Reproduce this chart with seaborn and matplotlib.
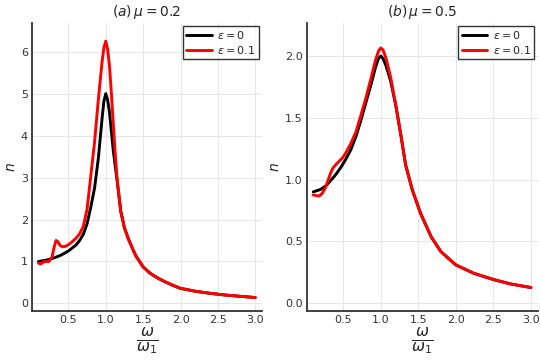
import matplotlib
matplotlib.use("Agg")
import matplotlib.pyplot as plt
import seaborn as sns
import pandas as pd

# ---- data ----
# panel (a): mu = 0.2
w_a_black = [0.10, 0.20, 0.30, 0.40, 0.50, 0.60, 0.65, 0.70, 0.75, 0.80, 0.85, 0.90, 0.95, 0.975, 1.00,
             1.025, 1.05, 1.075, 1.10, 1.125, 1.15, 1.20, 1.25, 1.30, 1.35, 1.40, 1.50, 1.60, 1.70,
             1.80, 1.90, 2.00, 2.20, 2.40, 2.60, 2.80, 3.00]
n_a_black = [1.00, 1.03, 1.08, 1.15, 1.25, 1.39, 1.50, 1.65, 1.90, 2.30, 2.75, 3.45, 4.40, 4.82, 5.00,
             4.85, 4.55, 4.10, 3.65, 3.30, 2.95, 2.20, 1.80, 1.55, 1.34, 1.14, 0.87, 0.71, 0.60,
             0.51, 0.43, 0.36, 0.29, 0.24, 0.20, 0.17, 0.14]
w_a_red = [0.10, 0.13, 0.17, 0.20, 0.24, 0.28, 0.31, 0.335, 0.36, 0.39, 0.42, 0.46, 0.50, 0.55, 0.60,
           0.65, 0.70, 0.75, 0.80, 0.85, 0.90, 0.95, 0.975, 1.00, 1.025, 1.05, 1.075, 1.10, 1.125,
           1.15, 1.20, 1.25, 1.30, 1.35, 1.40, 1.50, 1.60, 1.70, 1.80, 1.90, 2.00, 2.20, 2.40,
           2.60, 2.80, 3.00]
n_a_red = [0.96, 0.94, 0.99, 1.00, 1.00, 1.10, 1.35, 1.50, 1.47, 1.38, 1.35, 1.36, 1.40, 1.47, 1.55,
           1.66, 1.84, 2.25, 3.05, 3.85, 4.85, 5.75, 6.10, 6.25, 6.05, 5.65, 5.00, 4.30, 3.60,
           3.00, 2.20, 1.80, 1.55, 1.34, 1.14, 0.87, 0.71, 0.60, 0.51, 0.43, 0.36, 0.29, 0.24,
           0.20, 0.17, 0.14]

# panel (b): mu = 0.5
w_b_black = [0.10, 0.20, 0.27, 0.33, 0.40, 0.47, 0.53, 0.60, 0.67, 0.73, 0.80, 0.87, 0.93, 0.97, 1.00,
             1.03, 1.07, 1.13, 1.20, 1.27, 1.33, 1.42, 1.53, 1.67, 1.80, 2.00, 2.24, 2.50, 2.73, 3.00]
n_b_black = [0.90, 0.92, 0.95, 0.99, 1.04, 1.10, 1.16, 1.24, 1.35, 1.47, 1.62, 1.77, 1.91, 1.98, 2.00,
             1.98, 1.92, 1.80, 1.60, 1.35, 1.12, 0.915, 0.726, 0.537, 0.416, 0.308, 0.24, 0.19, 0.154, 0.125]
w_b_red = [0.10, 0.14, 0.18, 0.22, 0.26, 0.29, 0.33, 0.36, 0.40, 0.44, 0.49, 0.53, 0.60, 0.67, 0.73,
           0.80, 0.87, 0.93, 0.97, 1.00, 1.03, 1.07, 1.13, 1.20, 1.27, 1.33, 1.42, 1.53, 1.67, 1.80,
           2.00, 2.24, 2.50, 2.73, 3.00]
n_b_red = [0.875, 0.87, 0.866, 0.888, 0.93, 0.98, 1.05, 1.09, 1.12, 1.144, 1.175, 1.212, 1.29, 1.387, 1.51,
           1.657, 1.82, 1.968, 2.04, 2.065, 2.05, 1.98, 1.83, 1.60, 1.35, 1.12, 0.915, 0.726, 0.537, 0.416,
           0.308, 0.24, 0.19, 0.154, 0.125]

titles = [r"$(a)\,\mu = 0.2$", r"$(b)\,\mu = 0.5$"]
labels = [r"$\varepsilon = 0$", r"$\varepsilon = 0.1$"]
xticks = [0.5, 1.0, 1.5, 2.0, 2.5, 3.0]
yticks_a = [0, 1, 2, 3, 4, 5, 6]
yticks_b = [0.0, 0.5, 1.0, 1.5, 2.0]

sns.set_style("white")
plt.rcParams['font.family'] = ['DejaVu Sans']
plt.rcParams['mathtext.fontset'] = 'dejavusans'

fig = plt.figure(figsize=(5.4, 3.6), dpi=100)
ax_a = fig.add_axes([32 / 540, 1 - 311 / 360, 230 / 540, (311 - 22.7) / 360])
ax_b = fig.add_axes([306.7 / 540, 1 - 311 / 360, 231 / 540, (311 - 22.7) / 360])

panels = [
    (ax_a, w_a_black, n_a_black, w_a_red, n_a_red, yticks_a, (-0.18, 6.69), ["0", "1", "2", "3", "4", "5", "6"]),
    (ax_b, w_b_black, n_b_black, w_b_red, n_b_red, yticks_b, (-0.065, 2.27), ["0.0", "0.5", "1.0", "1.5", "2.0"]),
]

for i, (ax, wb, nb, wr, nr, yt, yl, ytl) in enumerate(panels):
    df_b = pd.DataFrame({"w": wb, "n": nb})
    df_r = pd.DataFrame({"w": wr, "n": nr})
    sns.lineplot(data=df_b, x="w", y="n", ax=ax, color="black", lw=2.1, label=labels[0],
                 sort=False, estimator=None)
    sns.lineplot(data=df_r, x="w", y="n", ax=ax, color="red", lw=2.1, label=labels[1],
                 sort=False, estimator=None)
    ax.set_xlim(0.013, 3.09)
    ax.set_ylim(*yl)
    ax.set_xticks(xticks)
    ax.set_xticklabels(["0.5", "1.0", "1.5", "2.0", "2.5", "3.0"])
    ax.set_yticks(yt)
    ax.set_yticklabels(ytl)
    ax.grid(True, color="#e6e6e6", lw=0.7)
    for s in ["top", "right"]:
        ax.spines[s].set_visible(False)
    for s in ["left", "bottom"]:
        ax.spines[s].set_color("#333333")
        ax.spines[s].set_linewidth(1.3)
    ax.tick_params(direction="in", length=3, width=0.8, colors="#333333", labelsize=8,
                   labelcolor="#333333", pad=3)
    ax.set_title(titles[i], fontsize=10, pad=5)
    ax.set_xlabel(r"$\frac{\omega}{\omega_1}$", fontsize=16, labelpad=0)
    ax.set_ylabel(r"$n$", fontsize=10, labelpad=2)
    leg = ax.legend(loc="upper right", fontsize=8, frameon=True, fancybox=False,
                    borderpad=0.3, handlelength=2.3, handletextpad=0.5, labelspacing=0.2,
                    borderaxespad=0.3)
    leg.get_frame().set_edgecolor("black")
    leg.get_frame().set_linewidth(1.0)

fig.savefig("out.png", dpi=100)
